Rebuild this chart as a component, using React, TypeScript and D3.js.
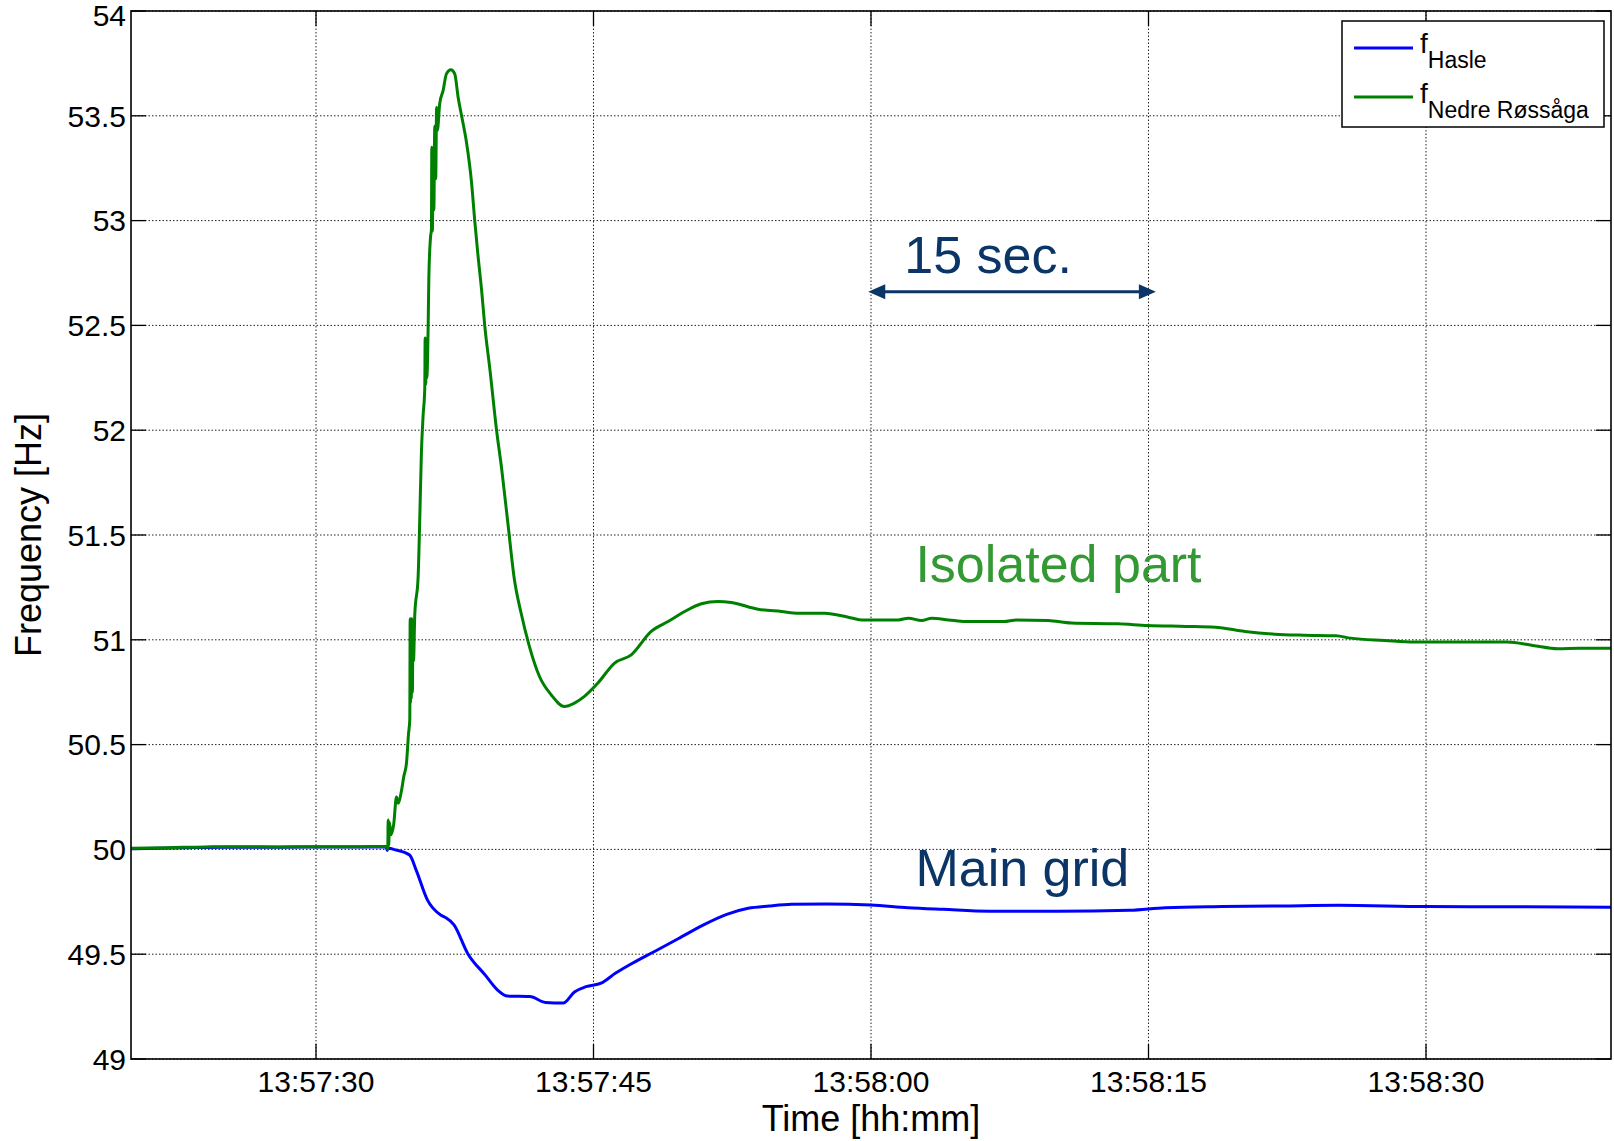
import * as d3 from "d3";

// seconds after 13:57:20
const haslT = [0, 3, 5, 8, 11, 13.8, 13.85, 13.9, 14.33, 15.06, 15.42, 16.02, 16.74, 17.0, 17.46, 18.19, 19.15, 19.8, 20.35, 21.56, 22.4, 23.36, 23.97, 24.6, 25.41, 26.2, 27.1, 28.3, 29.6, 30.95, 32.2, 33.36, 34.5, 35.71, 37.6, 40, 42, 43.9, 46.4, 50, 54, 55.9, 59, 62.2, 65.3, 70, 75, 80];
const haslF = [50.003, 50.008, 50.01, 50.01, 50.012, 50.012, 49.995, 50.005, 49.997, 49.973, 49.9, 49.759, 49.687, 49.675, 49.64, 49.505, 49.4, 49.33, 49.3, 49.298, 49.27, 49.267, 49.32, 49.345, 49.362, 49.41, 49.457, 49.513, 49.575, 49.64, 49.69, 49.719, 49.73, 49.738, 49.74, 49.735, 49.722, 49.714, 49.705, 49.705, 49.71, 49.722, 49.727, 49.73, 49.733, 49.727, 49.726, 49.724];

const nedreT = [0, 2, 4, 6, 8, 10, 12, 13.85, 13.88, 13.9, 13.93, 13.97, 14.05, 14.2, 14.35, 14.45, 14.62, 14.75, 14.89, 15.0, 15.07, 15.09, 15.11, 15.13, 15.15, 15.18, 15.21, 15.24, 15.27, 15.34, 15.52, 15.61, 15.7, 15.79, 15.88, 15.9, 15.93, 15.96, 15.99, 16.06, 16.1, 16.19, 16.24, 16.26, 16.29, 16.33, 16.37, 16.42, 16.47, 16.52, 16.56, 16.69, 16.87, 17.05, 17.29, 17.5, 17.68, 17.87, 18.14, 18.41, 18.58, 18.76, 18.95, 19.12, 19.4, 19.76, 20.03, 20.38, 20.72, 21.08, 21.53, 22.08, 22.71, 23.43, 23.97, 24.51, 25.23, 26.14, 27.04, 28.12, 29.03, 29.93, 30.83, 31.73, 32.45, 33.9, 35.16, 36.06, 37.5, 38.77, 39.49, 41.48, 42.02, 42.74, 43.28, 44.19, 45.12, 47.18, 47.86, 49.58, 50.84, 53.35, 54.95, 57.01, 58.61, 60.21, 61.82, 63.42, 65.13, 65.93, 67.76, 69.36, 74.39, 75.77, 77.14, 78.28, 80];
const nedreF = [50.005, 50.008, 50.012, 50.013, 50.012, 50.013, 50.013, 50.015, 50.0, 50.14, 50.02, 50.13, 50.07, 50.12, 50.25, 50.22, 50.28, 50.35, 50.41, 50.55, 50.62, 51.1, 50.7, 51.08, 50.72, 51.1, 50.75, 51.05, 50.9, 51.12, 51.3, 51.58, 51.9, 52.07, 52.2, 52.44, 52.22, 52.43, 52.25, 52.48, 52.73, 52.92, 52.96, 53.35, 52.95, 53.3, 53.05, 53.45, 53.2, 53.54, 53.43, 53.56, 53.62, 53.7, 53.72, 53.7, 53.59, 53.5, 53.37, 53.18, 53.0, 52.83, 52.67, 52.5, 52.29, 52.0, 51.82, 51.55, 51.29, 51.13, 50.97, 50.825, 50.738, 50.682, 50.698, 50.73, 50.793, 50.889, 50.928, 51.04, 51.087, 51.135, 51.172, 51.183, 51.178, 51.146, 51.135, 51.127, 51.127, 51.108, 51.095, 51.095, 51.103, 51.092, 51.103, 51.095, 51.087, 51.087, 51.095, 51.092, 51.08, 51.076, 51.068, 51.064, 51.06, 51.04, 51.027, 51.022, 51.019, 51.008, 50.997, 50.989, 50.989, 50.973, 50.957, 50.96, 50.96];

const yTicks = [49, 49.5, 50, 50.5, 51, 51.5, 52, 52.5, 53, 53.5, 54];
const xTicks = [10, 25, 40, 55, 70];
const xTickLabels = ["13:57:30", "13:57:45", "13:58:00", "13:58:15", "13:58:30"];

// annotation anchors (seconds, Hz)
const arrowSpan = [39.85, 55.4];
const arrowF = 52.66;
const secLabel = { t: 41.8, f: 52.75, text: "15 sec." };
const isolatedLabel = { t: 42.4, f: 51.278, text: "Isolated part" };
const mainLabel = { t: 42.4, f: 49.825, text: "Main grid" };

const font = "'Liberation Sans', Arial, Helvetica, sans-serif";
const navy = "#0b3566";

export default function App() {
    const width = 1614;
    const height = 1141;
    const margin = { top: 11, right: 3, bottom: 82, left: 131 };
    const x0 = margin.left, x1 = width - margin.right;
    const y0 = margin.top, y1 = height - margin.bottom;

    const x = d3.scaleLinear().domain([0, 80]).range([x0, x1]);
    const y = d3.scaleLinear().domain([49, 54]).range([y1, y0]);

    const line = d3.line<number[]>()
        .x(d => x(d[0]))
        .y(d => y(d[1]))
        .curve(d3.curveMonotoneX);

    const hasle = haslT.map((t, i) => [t, haslF[i]]);
    const nedre = nedreT.map((t, i) => [t, nedreF[i]]);

    const tickLen = 15;
    const ax = x(arrowSpan[0]), bx = x(arrowSpan[1]), ay = y(arrowF);
    const head = 17, hw = 7.5;

    return (
        <svg width={width} height={height} style={{ display: 'block', fontFamily: font }}>
            <style>{`body{margin:0}`}</style>
            <rect width={width} height={height} fill="#fff" />

            {/* grid */}
            {yTicks.map(v => (
                <line key={'gy' + v} x1={x0} x2={x1} y1={y(v)} y2={y(v)}
                    stroke="#222" strokeWidth={1} strokeDasharray="1.5 2" />
            ))}
            {xTicks.map(v => (
                <line key={'gx' + v} x1={x(v)} x2={x(v)} y1={y0} y2={y1}
                    stroke="#222" strokeWidth={1} strokeDasharray="1.5 2" />
            ))}

            {/* ticks on all sides */}
            {yTicks.map(v => (
                <g key={'ty' + v}>
                    <line x1={x0} x2={x0 + tickLen} y1={y(v)} y2={y(v)} stroke="#000" strokeWidth={1.3} />
                    <line x1={x1} x2={x1 - tickLen} y1={y(v)} y2={y(v)} stroke="#000" strokeWidth={1.3} />
                    <text x={x0 - 5} y={y(v)} dy={v === 54 ? "0.5em" : "0.36em"} textAnchor="end" fontSize={30} fill="#000">{String(v)}</text>
                </g>
            ))}
            {xTicks.map((v, i) => (
                <g key={'tx' + v}>
                    <line x1={x(v)} x2={x(v)} y1={y1} y2={y1 - tickLen} stroke="#000" strokeWidth={1.3} />
                    <line x1={x(v)} x2={x(v)} y1={y0} y2={y0 + tickLen} stroke="#000" strokeWidth={1.3} />
                    <text x={x(v)} y={y1 + 33} textAnchor="middle" fontSize={30} fill="#000">{xTickLabels[i]}</text>
                </g>
            ))}

            {/* series */}
            <path d={line(hasle) || ''} fill="none" stroke="#0000ff" strokeWidth={3} strokeLinejoin="round" />
            <path d={line(nedre) || ''} fill="none" stroke="#008000" strokeWidth={3} strokeLinejoin="round" />

            {/* axes box */}
            <rect x={x0} y={y0} width={x1 - x0} height={y1 - y0} fill="none" stroke="#000" strokeWidth={1.6} />

            {/* annotations */}
            <line x1={ax + head - 2} x2={bx - head + 2} y1={ay} y2={ay} stroke={navy} strokeWidth={3} />
            <polygon points={`${ax},${ay} ${ax + head},${ay - hw} ${ax + head},${ay + hw}`} fill={navy} />
            <polygon points={`${bx},${ay} ${bx - head},${ay - hw} ${bx - head},${ay + hw}`} fill={navy} />
            <text x={x(secLabel.t)} y={y(secLabel.f)} fontSize={52} fill={navy}>{secLabel.text}</text>
            <text x={x(isolatedLabel.t)} y={y(isolatedLabel.f)} fontSize={52} fill="#339933">{isolatedLabel.text}</text>
            <text x={x(mainLabel.t)} y={y(mainLabel.f)} fontSize={52} fill={navy}>{mainLabel.text}</text>

            {/* legend */}
            <g>
                <rect x={1342} y={21} width={262} height={106} fill="#fff" stroke="#000" strokeWidth={1.5} />
                <line x1={1354} x2={1413} y1={48} y2={48} stroke="#0000ff" strokeWidth={3} />
                <text x={1420} y={53} fontSize={28} fill="#000">f
                    <tspan dy={15} fontSize={23}>Hasle</tspan>
                </text>
                <line x1={1354} x2={1413} y1={97} y2={97} stroke="#008000" strokeWidth={3} />
                <text x={1420} y={102.5} fontSize={28} fill="#000">f
                    <tspan dy={15.5} fontSize={23}>Nedre Røssåga</tspan>
                </text>
            </g>

            {/* axis titles */}
            <text x={(x0 + x1) / 2} y={1131} textAnchor="middle" fontSize={36} fill="#000">Time [hh:mm]</text>
            <text transform={`translate(41,${(y0 + y1) / 2}) rotate(-90)`} textAnchor="middle" fontSize={36} fill="#000">Frequency [Hz]</text>
        </svg>
    );
}
